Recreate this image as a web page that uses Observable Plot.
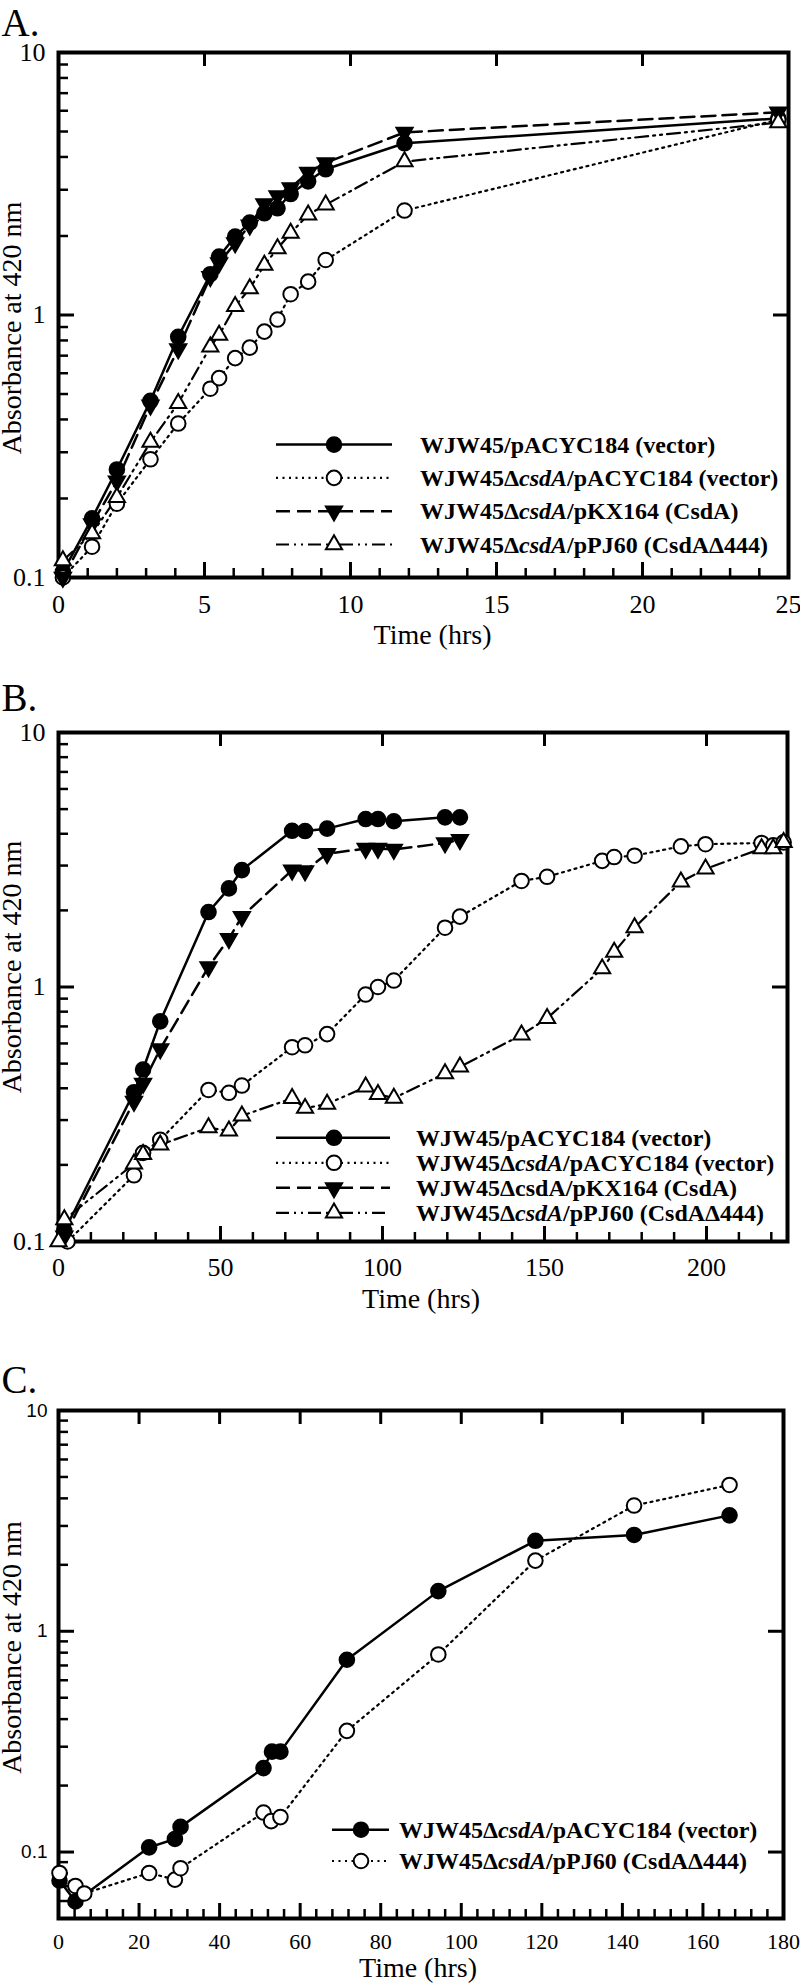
<!DOCTYPE html>
<html>
<head>
<meta charset="utf-8">
<script src="https://cdn.jsdelivr.net/npm/d3@7"></script>
<script src="https://cdn.jsdelivr.net/npm/@observablehq/plot@0.6"></script>
<style>
  html, body { margin: 0; padding: 0; background: #fff; }
  #chart { width: 800px; }
  #chart svg { display: block; }
</style>
</head>
<body>
<div id="chart"></div>
<script>
// ---------------- DATA ----------------
// Panel A (time in hrs, absorbance at 420 nm)
const aTime      = [0.15, 1.15, 2.0, 3.15, 4.1, 5.2, 5.5, 6.05, 6.55, 7.05, 7.5, 7.95, 8.55, 9.15, 11.85, 24.65];
const aWT        = [0.105, 0.168, 0.258, 0.471, 0.826, 1.43, 1.67, 1.99, 2.25, 2.44, 2.55, 2.89, 3.23, 3.59, 4.51, 5.61];
const aDelVector = [0.1, 0.131, 0.191, 0.282, 0.386, 0.524, 0.575, 0.685, 0.751, 0.864, 0.961, 1.20, 1.34, 1.62, 2.50, 5.55];
const aCsdA      = [0.1, 0.160, 0.233, 0.453, 0.743, 1.40, 1.58, 1.88, 2.20, 2.65, 2.84, 3.05, 3.49, 3.80, 4.96, 5.92];
const aCsdA444   = [0.116, 0.147, 0.202, 0.328, 0.461, 0.756, 0.838, 1.08, 1.26, 1.55, 1.79, 2.05, 2.41, 2.63, 3.84, 5.41];

// Panel B
const bTimeShort = [1.8, 23.3, 26.1, 31.4, 46.3, 52.6, 56.6, 72.1, 76.1, 82.9, 94.8, 98.6, 103.5, 119.3, 123.9];
const bWT        = [0.11, 0.386, 0.474, 0.733, 1.97, 2.44, 2.88, 4.11, 4.10, 4.19, 4.57, 4.57, 4.48, 4.64, 4.64];
const bCsdA      = [0.105, 0.355, 0.418, 0.571, 1.20, 1.55, 1.89, 2.88, 2.86, 3.34, 3.50, 3.50, 3.47, 3.68, 3.79];
const bTimeDel   = [2.8, 23.3, 26.1, 31.4, 46.3, 52.6, 56.6, 72.1, 76.1, 82.9, 94.8, 98.6, 103.5, 119.3, 123.9,
                    142.9, 150.8, 167.8, 171.5, 177.8, 192.1, 199.7, 217, 220.6, 223.8];
const bDelVector = [0.1, 0.182, 0.223, 0.251, 0.394, 0.384, 0.410, 0.580, 0.590, 0.653, 0.934, 1.0, 1.06, 1.71, 1.89,
                    2.61, 2.71, 3.13, 3.24, 3.28, 3.57, 3.64, 3.68, 3.60, 3.70];
const bTime444   = [0, 1.8, 23.3, 26.1, 31.4, 46.3, 52.6, 56.6, 72.1, 76.1, 82.9, 94.8, 98.6, 103.5, 119.3, 123.9,
                    142.9, 150.8, 167.8, 171.5, 177.8, 192.1, 199.7, 217, 220.6, 223.8];
const bCsdA444   = [0.1, 0.122, 0.202, 0.22, 0.240, 0.280, 0.272, 0.312, 0.365, 0.334, 0.347, 0.405, 0.379, 0.366, 0.457, 0.486,
                    0.648, 0.753, 1.18, 1.37, 1.71, 2.59, 2.91, 3.5, 3.5, 3.7];

// Panel C
const cTimeVec   = [0.25, 4.2, 22.5, 28.9, 30.3, 50.9, 53.0, 55.1, 71.6, 94.3, 118.4, 142.9, 166.6];
const cDelVector = [0.0743, 0.0597, 0.105, 0.1146, 0.130, 0.240, 0.285, 0.285, 0.743, 1.52, 2.57, 2.73, 3.35];
const cTime444   = [0.25, 4.2, 6.4, 22.5, 28.9, 30.3, 50.9, 52.8, 55.1, 71.6, 94.3, 118.4, 142.9, 166.6];
const cDel444    = [0.0804, 0.0702, 0.0649, 0.0804, 0.075, 0.0845, 0.151, 0.138, 0.144, 0.354, 0.785, 2.09, 3.71, 4.60];

// Axis ticks
const aXTicks = [0, 5, 10, 15, 20, 25];
const bXTicks = [0, 50, 100, 150, 200];
const cXTicks = [0, 20, 40, 60, 80, 100, 120, 140, 160, 180];
const yTicksAB = [0.1, 1, 10];
const yTicksC = [0.1, 1, 10];

// Texts
const panelLetters = ["A.", "B.", "C."];
const xTitle = "Time (hrs)";
const yTitle = "Absorbance at 420 nm";
// legend labels: [text, italic?] parts
const lgWT        = [["WJW45/pACYC184 (vector)", false]];
const lgDelVector = [["WJW45Δ", false], ["csdA", true], ["/pACYC184 (vector)", false]];
const lgCsdA      = [["WJW45Δ", false], ["csdA", true], ["/pKX164 (CsdA)", false]];
const lgCsdAPlain = [["WJW45ΔcsdA/pKX164 (CsdA)", false]];
const lgCsdA444   = [["WJW45Δ", false], ["csdA", true], ["/pPJ60 (CsdAΔ444)", false]];

// ---------------- STYLES ----------------
const SERIF = "'Liberation Serif', 'Times New Roman', Times, serif";
const SANS = "'Liberation Sans', Arial, Helvetica, sans-serif";
const W = 800, ML = 58;

const triDown = {
  draw(context, size) {
    const y = -Math.sqrt(size / (Math.sqrt(3) * 3));
    context.moveTo(0, -y * 2);
    context.lineTo(-Math.sqrt(3) * y, y);
    context.lineTo(Math.sqrt(3) * y, y);
    context.closePath();
  }
};
const ST = {
  filledCircle: {symbol: d3.symbolCircle, r: 7.3, fill: "black", dash: null, width: 2.5},
  openCircleDot: {symbol: d3.symbolCircle, r: 7.3, fill: "white", dash: "2 4.5", width: 2.2},
  filledTriDash: {symbol: triDown, r: 6.0, fill: "black", dash: "14 7", width: 2.5},
  openTriDDot: {symbol: d3.symbolTriangle, r: 6.0, fill: "white", dash: "13 5 2 5 2 5", width: 2.2}
};

function rows(t, v) { return t.map((x, i) => ({x, y: v[i]})); }

function minorRange(lo, hi, step, skip) {
  return d3.range(lo, hi + step / 2, step).filter(d => !skip.some(s => Math.abs(s - d) < 1e-9));
}
function logMinor(lo, hi) {
  const out = [];
  for (let e = -2; e <= 1; e++) for (let k = 1; k <= 9; k++) {
    const v = k * Math.pow(10, e);
    if (v >= lo - 1e-12 && v <= hi + 1e-12 && k !== 1) out.push(+v.toPrecision(3));
  }
  return out;
}

function buildPanel(cfg) {
  const MR = cfg.marginRight;
  const PW = W - ML - MR;
  const H = cfg.height - cfg.marginTop - cfg.marginBottom;
  const marks = [];
  marks.push(Plot.ruleX(cfg.xMinor, {stroke: "black", strokeWidth: 2.5, insetTop: H - 9}));
  marks.push(Plot.ruleX(cfg.xTicks, {stroke: "black", strokeWidth: 3, insetTop: H - 15}));
  marks.push(Plot.ruleX(cfg.xTop, {stroke: "black", strokeWidth: 3, insetBottom: H - 14}));
  marks.push(Plot.ruleY(cfg.yMinor, {stroke: "black", strokeWidth: 2.5, insetRight: PW - 10}));
  marks.push(Plot.ruleY(cfg.yTicks, {stroke: "black", strokeWidth: 3, insetRight: PW - 16}));
  marks.push(Plot.ruleY(cfg.yRight, {stroke: "black", strokeWidth: 3, insetLeft: PW - 15}));
  marks.push(Plot.frame({stroke: "black", strokeWidth: 4}));
  marks.push(Plot.axisX(cfg.xTicks, {anchor: "bottom", tickSize: 0, tickPadding: cfg.xPad, label: null,
    fontSize: cfg.xFont, fontFamily: SERIF, tickFormat: d => String(d)}));
  marks.push(Plot.axisY(cfg.yTicks, {anchor: "left", tickSize: 0, tickPadding: cfg.yPad, label: null,
    fontSize: cfg.yFont, fontFamily: cfg.yFontFamily, tickFormat: d => String(d)}));
  marks.push(Plot.text([xTitle], {text: d => d, frameAnchor: "bottom", textAnchor: "middle", lineAnchor: "top",
    dx: cfg.xTitleDx, dy: cfg.xTitleDy, fontSize: 28, fontFamily: SERIF}));
  marks.push(Plot.text([yTitle], {text: d => d, frameAnchor: "left", textAnchor: "middle", rotate: -90,
    lineAnchor: "middle", dx: -46, dy: cfg.yTitleDy, fontSize: 28, fontFamily: SERIF}));
  marks.push(Plot.text([cfg.letter], {text: d => d, frameAnchor: "top-left", textAnchor: "start", lineAnchor: "bottom",
    dx: -57, dy: cfg.letterDy, fontSize: 39, fontFamily: SERIF}));
  for (const s of cfg.series) {
    marks.push(Plot.line(s.data, {x: "x", y: "y", stroke: "black", strokeWidth: s.style.width,
      strokeDasharray: s.style.dash || undefined}));
  }
  for (const s of cfg.series) {
    marks.push(Plot.dot(s.data, {x: "x", y: "y", symbol: s.style.symbol, r: s.style.r,
      fill: s.style.fill, stroke: "black", strokeWidth: 2}));
  }
  const svg = Plot.plot({
    width: W, height: cfg.height,
    marginLeft: ML, marginRight: MR, marginTop: cfg.marginTop, marginBottom: cfg.marginBottom,
    style: {fontFamily: SERIF, fontSize: "26px", color: "black", background: "white", overflow: "visible"},
    x: {domain: cfg.xDomain, label: null},
    y: {type: "log", domain: cfg.yDomain, label: null},
    marks
  });
  // enforce fonts
  const S = d3.select(svg);
  S.selectAll("text").style("font-family", SERIF).style("fill", "black");
  S.selectAll('g[aria-label="x-axis tick label"] text').style("font-size", cfg.xFont + "px");
  S.selectAll('g[aria-label="y-axis tick label"] text')
    .style("font-size", cfg.yFont + "px").style("font-family", cfg.yFontFamily);
  S.selectAll("text").each(function () {
    const t = this.textContent;
    if (t === xTitle || t === yTitle) d3.select(this).style("font-size", "28px");
    if (panelLetters.includes(t)) d3.select(this).style("font-size", "39px");
  });
  // legend (inside frame)
  const L = cfg.legend;
  const g = S.append("g")
    .attr("font-family", SERIF).attr("font-size", 24).attr("font-weight", "bold")
    .attr("fill", "black").attr("text-anchor", "start");
  L.entries.forEach((e, i) => {
    const y = L.y0 + i * L.dy;
    g.append("line").attr("x1", L.x1).attr("x2", L.x2).attr("y1", y).attr("y2", y)
      .attr("stroke", "black").attr("stroke-width", e.style.width)
      .attr("stroke-dasharray", e.style.dash);
    g.append("path").attr("transform", `translate(${L.xm},${y})`)
      .attr("d", d3.symbol(e.style.symbol, e.style.r * e.style.r * Math.PI)())
      .attr("fill", e.style.fill).attr("stroke", "black").attr("stroke-width", 2);
    const t = g.append("text").attr("x", L.xt).attr("y", y + 8)
      .style("font-family", SERIF).style("font-size", "24px").style("font-weight", "bold")
      .style("text-anchor", "start");
    e.parts.forEach(([s, it]) => t.append("tspan").style("font-style", it ? "italic" : "normal").text(s));
  });
  return svg;
}

const chart = document.getElementById("chart");

chart.appendChild(buildPanel({
  letter: panelLetters[0], height: 660, marginTop: 52, marginBottom: 83, marginRight: 12,
  xDomain: [0, 25], yDomain: [0.1, 10],
  xTicks: aXTicks, xMinor: minorRange(0, 25, 1, aXTicks), xTop: aXTicks.slice(1, -1),
  yTicks: yTicksAB, yMinor: logMinor(0.1, 10), yRight: [1],
  xPad: 17, xFont: 26, yPad: 13, yFont: 26, yFontFamily: SERIF,
  xTitleDx: 9, xTitleDy: 47, yTitleDy: 13, letterDy: -17,
  series: [
    {data: rows(aTime, aWT), style: ST.filledCircle},
    {data: rows(aTime, aDelVector), style: ST.openCircleDot},
    {data: rows(aTime, aCsdA), style: ST.filledTriDash},
    {data: rows(aTime, aCsdA444), style: ST.openTriDDot}
  ],
  legend: {x1: 276, x2: 392, xm: 334, xt: 420, y0: 444.6, dy: 33.3, entries: [
    {style: ST.filledCircle, parts: lgWT},
    {style: ST.openCircleDot, parts: lgDelVector},
    {style: ST.filledTriDash, parts: lgCsdA},
    {style: ST.openTriDDot, parts: lgCsdA444}
  ]}
}));

chart.appendChild(buildPanel({
  letter: panelLetters[1], height: 670, marginTop: 72, marginBottom: 89, marginRight: 13,
  xDomain: [0, 225], yDomain: [0.1, 10],
  xTicks: bXTicks, xMinor: minorRange(0, 220, 10, bXTicks), xTop: bXTicks.slice(1),
  yTicks: yTicksAB, yMinor: logMinor(0.1, 10), yRight: [1],
  xPad: 16, xFont: 26, yPad: 13, yFont: 26, yFontFamily: SERIF,
  xTitleDx: -2, xTitleDy: 47, yTitleDy: -20, letterDy: -22,
  series: [
    {data: rows(bTimeShort, bWT), style: ST.filledCircle},
    {data: rows(bTimeDel, bDelVector), style: ST.openCircleDot},
    {data: rows(bTimeShort, bCsdA), style: ST.filledTriDash},
    {data: rows(bTime444, bCsdA444), style: ST.openTriDDot}
  ],
  legend: {x1: 276, x2: 390, xm: 334, xt: 416, y0: 477.8, dy: 25, entries: [
    {style: ST.filledCircle, parts: lgWT},
    {style: ST.openCircleDot, parts: lgDelVector},
    {style: ST.filledTriDash, parts: lgCsdAPlain},
    {style: ST.openTriDDot, parts: lgCsdA444}
  ]}
}));

chart.appendChild(buildPanel({
  letter: panelLetters[2], height: 657, marginTop: 80, marginBottom: 69, marginRight: 17,
  xDomain: [0, 180], yDomain: [0.05, 10],
  xTicks: cXTicks, xMinor: minorRange(0, 180, 4, cXTicks), xTop: cXTicks.slice(1, -1),
  yTicks: yTicksC, yMinor: logMinor(0.05, 10), yRight: [0.1, 1],
  xPad: 15, xFont: 22, yPad: 11, yFont: 19, yFontFamily: SANS,
  xTitleDx: -3, xTitleDy: 39, yTitleDy: -17, letterDy: -18,
  series: [
    {data: rows(cTimeVec, cDelVector), style: ST.filledCircle},
    {data: rows(cTime444, cDel444), style: ST.openCircleDot}
  ],
  legend: {x1: 332, x2: 389, xm: 361, xt: 399, y0: 499.7, dy: 31.3, entries: [
    {style: ST.filledCircle, parts: lgDelVector},
    {style: ST.openCircleDot, parts: lgCsdA444}
  ]}
}));
</script>
</body>
</html>
